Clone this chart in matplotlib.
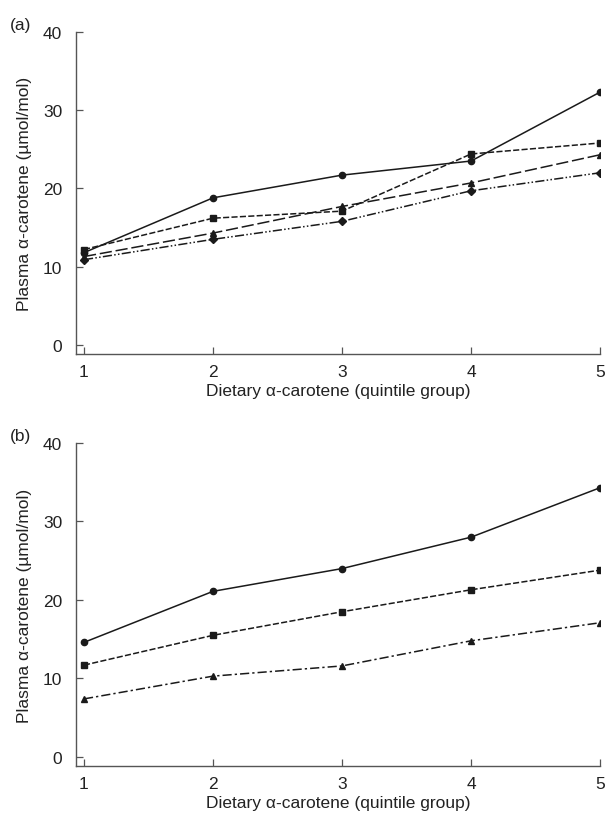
import matplotlib
matplotlib.use("Agg")
import matplotlib.pyplot as plt

plt.rcParams['font.family'] = ['Liberation Sans', 'DejaVu Sans']

quintile = [1, 2, 3, 4, 5]

# panel (a)
a_circle = [11.8, 18.8, 21.7, 23.5, 32.3]
a_square = [12.2, 16.2, 17.1, 24.4, 25.8]
a_triangle = [11.3, 14.3, 17.7, 20.7, 24.3]
a_diamond = [10.9, 13.5, 15.8, 19.7, 22.0]

# panel (b)
b_circle = [14.6, 21.1, 24.0, 28.0, 34.3]
b_square = [11.7, 15.5, 18.5, 21.3, 23.8]
b_triangle = [7.4, 10.3, 11.6, 14.8, 17.1]

col = "#1a1a1a"
fig = plt.figure(figsize=(6.08, 8.2), dpi=100)
ax_a = fig.add_axes([0.125, 0.567, 0.862, 0.393])
ax_b = fig.add_axes([0.125, 0.0646, 0.862, 0.394])

kw = dict(color=col, lw=1.1, ms=4.5)
ax_a.plot(quintile, a_circle, marker="o", ls="-", **kw)
ax_a.plot(quintile, a_square, marker="s", ls=(0, (4, 1.5)), **kw)
ax_a.plot(quintile, a_triangle, marker="^", ls=(0, (8, 2.5)), **kw)
ax_a.plot(quintile, a_diamond, marker="D", ls=(0, (6, 1.5, 1, 1.5, 1, 1.5)), **kw)

ax_b.plot(quintile, b_circle, marker="o", ls="-", **kw)
ax_b.plot(quintile, b_square, marker="s", ls=(0, (4, 1.5)), **kw)
ax_b.plot(quintile, b_triangle, marker="^", ls=(0, (6, 2, 1.5, 2)), **kw)

for ax, tag in [(ax_a, "(a)"), (ax_b, "(b)")]:
    ax.set_xlim(0.938, 5.0)
    ax.set_ylim(-1.15, 40)
    ax.set_xticks(quintile)
    ax.set_yticks([0, 10, 20, 30, 40])
    for s in ["top", "right"]:
        ax.spines[s].set_visible(False)
    for s in ["left", "bottom"]:
        ax.spines[s].set_color("#555555")
        ax.spines[s].set_linewidth(1.0)
    ax.tick_params(direction="in", length=5, width=0.9, color="#555555",
                   labelsize=12.5, labelcolor="#222222")
    ax.tick_params(axis="y", pad=10)
    ax.tick_params(axis="x", pad=7)
    ax.set_ylabel("Plasma α-carotene (µmol/mol)", fontsize=12.5, color="#222222", labelpad=8)
    ax.set_xlabel("Dietary α-carotene (quintile group)", fontsize=12.5, color="#222222", labelpad=3)
    ax.text(-0.126, 1.022, tag, transform=ax.transAxes, fontsize=12.5, color="#222222",
            ha="left", va="center")

fig.savefig("out.png", dpi=100)
